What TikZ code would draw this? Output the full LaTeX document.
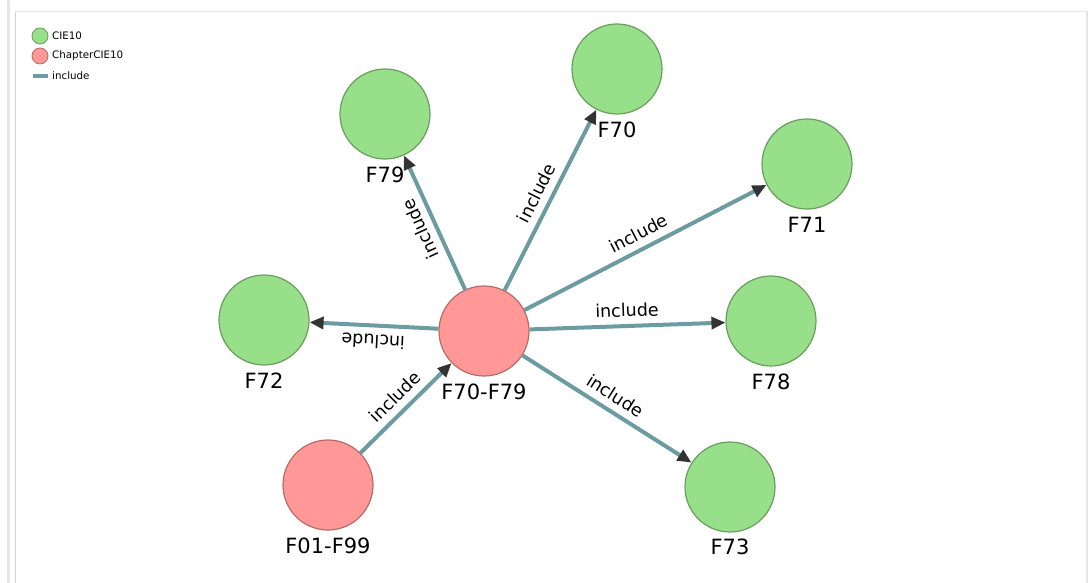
\documentclass[tikz,border=0pt]{standalone}
\usepackage{fontspec}
\setmainfont{DejaVu Sans}
\usetikzlibrary{arrows.meta}
\definecolor{cieFill}{HTML}{98DF8A}
\definecolor{cieLine}{HTML}{6A9E5E}
\definecolor{chapFill}{HTML}{FF9896}
\definecolor{chapLine}{HTML}{B86A6A}
\definecolor{linkCol}{HTML}{6C9BA2}
\definecolor{tipCol}{HTML}{333333}
\definecolor{frameCol}{HTML}{E6E6E6}
\begin{document}
\begin{tikzpicture}[x=1pt,y=-1pt,
  cie/.style={circle,draw=cieLine,fill=cieFill,line width=1.2pt,minimum size=90pt,inner sep=0pt},
  chap/.style={circle,draw=chapLine,fill=chapFill,line width=1.2pt,minimum size=90pt,inner sep=0pt},
  nodetxt/.style={font=\fontsize{21}{24}\selectfont,inner sep=0pt},
  link/.style={draw=linkCol,line width=4pt,-{Triangle[length=14pt,width=12pt,fill=tipCol,color=tipCol]}},
  lbl/.style={sloped,allow upside down,midway,above=7pt,font=\fontsize{17.5}{20}\selectfont,inner sep=0pt},
  legdot/.style={circle,line width=0.8pt,minimum size=16pt,inner sep=0pt},
  legtxt/.style={anchor=west,font=\fontsize{10.3}{12}\selectfont,inner sep=0pt}]
\useasboundingbox (0,0) rectangle (1089,583);

% panel frame
\draw[frameCol,line width=2.5pt] (8.5,0) -- (8.5,583);
\draw[frameCol!80!gray,line width=1pt] (15,11.5) -- (15,583);
\draw[frameCol,line width=1.5pt] (15,11.5) -- (1087,11.5) -- (1087,583);

% legend
\node[legdot,draw=cieLine,fill=cieFill] (kA) at (40,36) {};
\node[legtxt] (kAt) at (52,36) {CIE10};
\node[legdot,draw=chapLine,fill=chapFill] (kB) at (40,56) {};
\node[legtxt] (kBt) at (52,56) {ChapterCIE10};
\coordinate (kC1) at (33,76);
\coordinate (kC2) at (48,76);
\draw[linkCol,line width=3.5pt] (kC1) -- (kC2);
\node[legtxt] (kCt) at (52,76) {include};

% nodes
\node[chap] (hub) at (484,331) {};
\node[chap] (F0199) at (328,485) {};
\node[cie] (F70) at (617,69) {};
\node[cie] (F79) at (385,114) {};
\node[cie] (F71) at (807,164) {};
\node[cie] (F72) at (264,320) {};
\node[cie] (F78) at (771,321) {};
\node[cie] (F73) at (730,487) {};

% connectors
\draw[link] (hub) -- node[lbl] (e1) {include} (F70);
\draw[link] (hub) -- node[lbl] (e2) {include} (F79);
\draw[link] (hub) -- node[lbl] (e3) {include} (F71);
\draw[link] (hub) -- node[lbl] (e4) {include} (F72);
\draw[link] (hub) -- node[lbl] (e5) {include} (F78);
\draw[link] (hub) -- node[lbl] (e6) {include} (F73);
\draw[link] (F0199) -- node[lbl] (e7) {include} (hub);

% node names
\node[nodetxt] (tHub) at (484,392) {F70-F79};
\node[nodetxt] (tF0199) at (328,546) {F01-F99};
\node[nodetxt] (tF70) at (617,130) {F70};
\node[nodetxt] (tF79) at (385,175) {F79};
\node[nodetxt] (tF71) at (807,225) {F71};
\node[nodetxt] (tF72) at (264,381) {F72};
\node[nodetxt] (tF78) at (771,382) {F78};
\node[nodetxt] (tF73) at (730,547) {F73};
\end{tikzpicture}
\end{document}
